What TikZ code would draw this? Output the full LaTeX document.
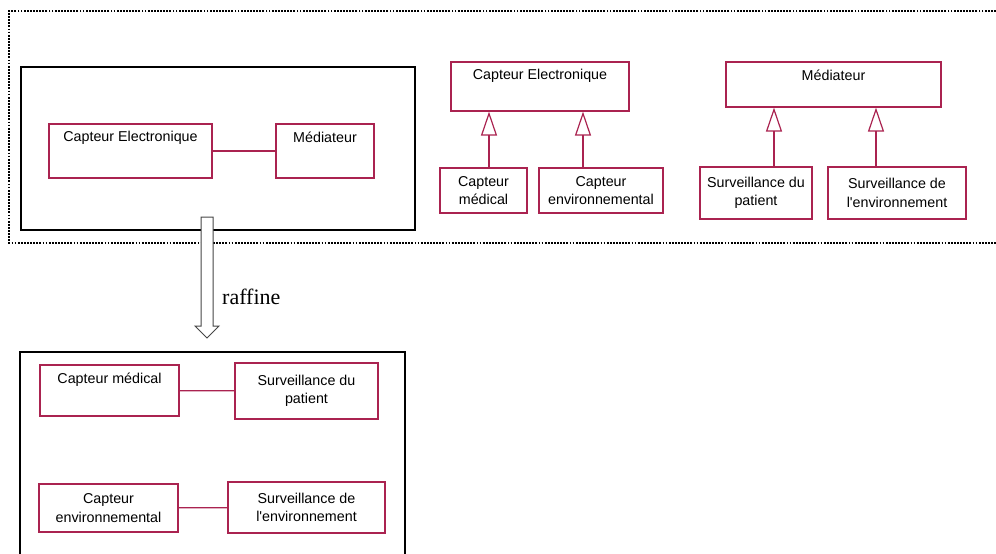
\documentclass[tikz,border=0pt]{standalone}
\usepackage{fontspec}
\setmainfont{Liberation Serif}
\setsansfont{Liberation Sans}
\usetikzlibrary{arrows.meta,positioning}
\definecolor{clsred}{RGB}{170,35,80}
\definecolor{arrowgray}{RGB}{70,70,70}
\newcommand{\clsfont}{\sffamily\fontsize{14.3}{18.5}\selectfont}

\tikzset{
  cls/.style={draw=clsred, line width=1.2pt, fill=white, inner sep=0pt, align=center, font=\clsfont},
  toptext/.style={label={[anchor=north, inner sep=0pt, yshift=-8pt, font=\clsfont]north:#1}},
  bigframe/.style={line width=2.6pt},
  dotframe/.style={line width=1.9pt, dash pattern=on 1.8pt off 1.3pt},
  inh/.style={draw=clsred, line width=1.2pt, -{Triangle[open, length=24pt, width=16pt]}},
  assoc/.style={draw=clsred, line width=1.2pt},
  refine/.style={draw=arrowgray, fill=white, line width=1pt}
}

\begin{document}
\begin{tikzpicture}[x=1pt, y=-1pt]
    \useasboundingbox (0,0) rectangle (996,554);
    % dotted frame, open on the right
    \draw[dotframe] (1002,11) -- (9,11) -- (9,243) -- (1002,243);
    % abstract collaboration
    \draw[bigframe] (21,67) rectangle (415,230);
    \node[cls, minimum width=163pt, minimum height=54pt, toptext={Capteur Electronique}] (ceA) at (130.5,151) {};
    \node[cls, minimum width=98pt, minimum height=54pt, toptext={Médiateur}] (medA) at (325,151) {};
    \draw[assoc] (ceA) -- (medA);
    % hierarchies
    \node[cls, minimum width=178pt, minimum height=49pt, toptext={Capteur Electronique}] (ceB) at (540,86.5) {};
    \node[cls, minimum width=215pt, minimum height=45pt, toptext={Médiateur}] (medB) at (833.5,84.5) {};
    \node[cls, minimum width=87pt, minimum height=45pt] (cmB) at (483.5,190.5) {Capteur\\médical};
    \node[cls, minimum width=124pt, minimum height=45pt] (cenvB) at (601,190.5) {Capteur\\environnemental};
    \node[cls, minimum width=112pt, minimum height=52pt] (spB) at (756,193) {Surveillance du\\patient};
    \node[cls, minimum width=138pt, minimum height=52pt] (seB) at (897,193) {Surveillance de\\l\textquotesingle environnement};
    \foreach \kid/\dx/\dad in {cmB/5.5/ceB, cenvB/-18/ceB, spB/18/medB, seB/-21/medB}
      \draw[inh] ([xshift=\dx pt]\kid.north) -- ([xshift=\dx pt]\kid.north |- \dad.south);
    % refined collaboration
    \draw[bigframe] (20,562) -- (20,352) -- (405,352) -- (405,562);
    \node[cls, minimum width=139pt, minimum height=51pt, toptext={Capteur médical}] (cmC) at (109.5,390.5) {};
    \node[cls, minimum width=143pt, minimum height=56pt] (spC) at (306.5,391) {Surveillance du\\patient};
    \node[cls, minimum width=139pt, minimum height=48pt] (cenvC) at (108.5,508) {Capteur\\environnemental};
    \node[cls, minimum width=157pt, minimum height=51pt] (seC) at (306.5,507.5) {Surveillance de\\l\textquotesingle environnement};
    \draw[assoc] (cmC) -- (spC);
    \draw[assoc] (cenvC) -- (seC);
    % raffine arrow
    \draw[refine] (201,217) -- (213,217) -- (213,326) -- (219,326) -- (207,338) -- (195,326) -- (201,326) -- cycle;
    \node[right=9pt, inner sep=0pt, font=\fontsize{22}{26}\selectfont] (raf) at (213,297) {raffine};
  \end{tikzpicture}
\end{document}
